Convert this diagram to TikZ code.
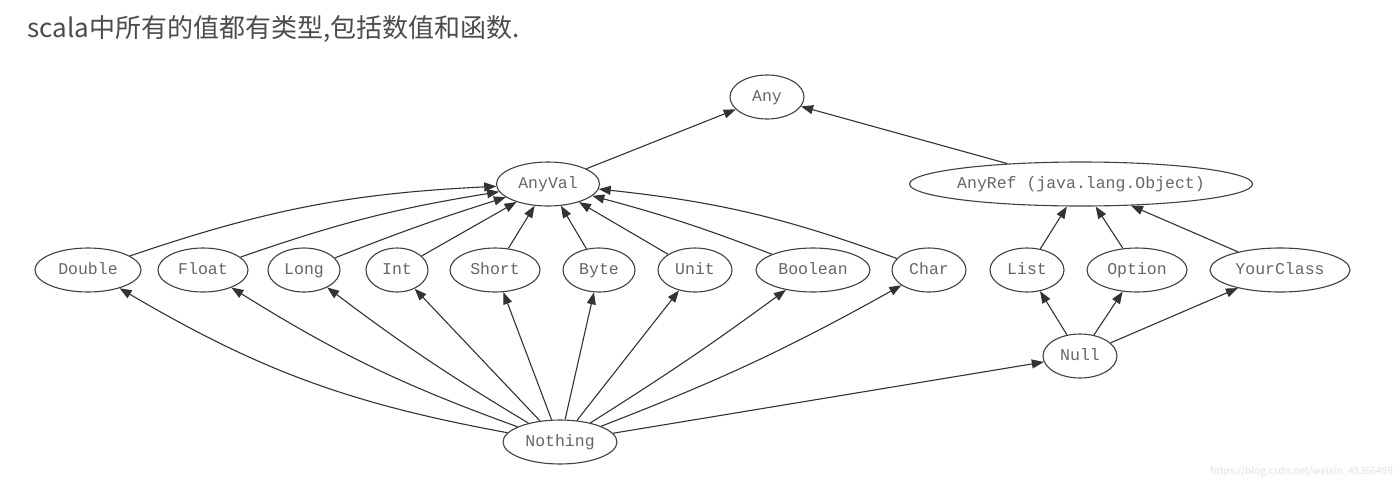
\documentclass[tikz,border=0pt]{standalone}
\usepackage{fontspec}
\setmonofont{Liberation Mono}
\newfontfamily\cjkfont{Noto Sans CJK SC}
\usetikzlibrary{shapes.geometric, arrows.meta}

\begin{document}
\begin{tikzpicture}[
    x=1pt, y=1pt,
    type/.style={
        ellipse, draw=black!75, line width=1.1pt, inner sep=0pt,
        minimum height=44pt, text=black!60,
        text height=2.1ex, text depth=0pt,
        font=\fontsize{16.5}{18}\selectfont\ttfamily
    },
    arrow/.style={line width=1.1pt, draw=black!80, -{Triangle[length=12pt,width=9pt]}}
]
\useasboundingbox (0,0) rectangle (1400,-488);

%% Title and mark
\node (title) [anchor=west, inner sep=0pt, text=black!70,
    font=\fontsize{26}{30}\selectfont\cjkfont] at (27,-29)
    {scala中所有的值都有类型,包括数值和函数.};
\node (mark) [anchor=east, inner sep=0pt, text=black!12,
    font=\fontsize{10}{11}\selectfont\cjkfont] at (1393,-472)
    {https://blog.csdn.net/weixin\_45366499};

%% Top
\node (any)    [type, minimum width=74pt]  at (767,-97)  {Any};
\node (anyval) [type, minimum width=103pt] at (548,-184) {AnyVal};
\node (anyref) [type, minimum width=343pt, inner xsep=-7.5pt] at (1081,-184)
    {AnyRef (java.lang.Object)};

%% Value types
\node (double)  [type, minimum width=106pt] at (88,-270)  {Double};
\node (float)   [type, minimum width=90pt]  at (203,-270) {Float};
\node (long)    [type, minimum width=72pt]  at (304,-270) {Long};
\node (int)     [type, minimum width=62pt]  at (397,-270) {Int};
\node (short)   [type, minimum width=90pt]  at (495,-270) {Short};
\node (byte)    [type, minimum width=72pt]  at (599,-270) {Byte};
\node (unit)    [type, minimum width=74pt]  at (695,-270) {Unit};
\node (boolean) [type, minimum width=114pt] at (813,-270) {Boolean};
\node (char)    [type, minimum width=74pt]  at (929,-270) {Char};

%% Reference types
\node (list)      [type, minimum width=74pt]  at (1027,-270) {List};
\node (option)    [type, minimum width=100pt] at (1137,-270) {Option};
\node (yourclass) [type, minimum width=140pt] at (1280,-270) {YourClass};

%% Bottom types
\node (null)    [type, minimum width=74pt]  at (1080,-356) {Null};
\node (nothing) [type, minimum width=114pt] at (560,-442)  {Nothing};

%% Arrows
\draw [arrow] (anyval) -- (any);
\draw [arrow] (anyref) -- (any);

\draw [arrow] (double)  to[bend left=8] (anyval);
\draw [arrow] (float)   to[bend left=5] (anyval);
\draw [arrow] (long)    to[bend left=2] (anyval);
\draw [arrow] (int)     -- (anyval);
\draw [arrow] (short)   -- (anyval);
\draw [arrow] (byte)    -- (anyval);
\draw [arrow] (unit)    -- (anyval);
\draw [arrow] (boolean) to[bend right=3] (anyval);
\draw [arrow] (char)    to[bend right=7] (anyval);

\draw [arrow] (list)      -- (anyref);
\draw [arrow] (option)    -- (anyref);
\draw [arrow] (yourclass) -- (anyref);

\draw [arrow] (nothing) to[bend left=10] (double);
\draw [arrow] (nothing) to[bend left=6] (float);
\draw [arrow] (nothing) to[bend left=3] (long);
\draw [arrow] (nothing) -- (int);
\draw [arrow] (nothing) -- (short);
\draw [arrow] (nothing) -- (byte);
\draw [arrow] (nothing) -- (unit);
\draw [arrow] (nothing) to[bend right=2] (boolean);
\draw [arrow] (nothing) to[bend right=4] (char);
\draw [arrow] (nothing) -- (null);

\draw [arrow] (null) -- (list);
\draw [arrow] (null) -- (option);
\draw [arrow] (null) -- (yourclass);

\end{tikzpicture}
\end{document}
